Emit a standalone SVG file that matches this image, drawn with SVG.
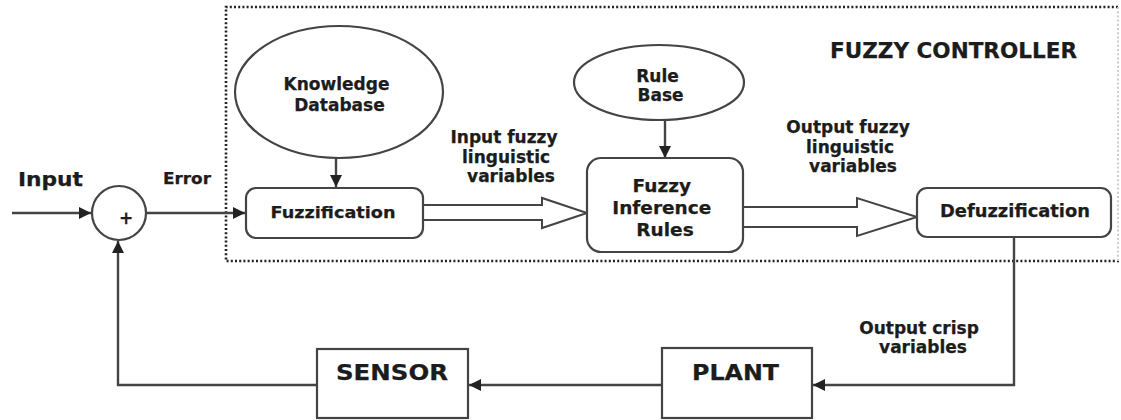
<svg xmlns="http://www.w3.org/2000/svg" width="1121" height="420" viewBox="0 0 1121 420">
  <defs>
    <style>
      .lbl { font-family: "DejaVu Sans", Verdana, sans-serif; font-weight: bold; fill: #1c1c1c; text-anchor: middle; stroke: #1c1c1c; stroke-width: 0.25; }
      .shape { fill: #fff; stroke: #444; stroke-width: 2.2; }
      .wire { fill: none; stroke: #444; stroke-width: 2.4; }
      .hollow { fill: #fff; stroke: #444; stroke-width: 2; stroke-linejoin: miter; }
      .frame { fill: none; stroke: #222; stroke-width: 2.6; stroke-dasharray: 2 2.2; }
    </style>
    <marker id="head" viewBox="0 0 10 10" refX="10" refY="5" markerWidth="12" markerHeight="12" markerUnits="userSpaceOnUse" orient="auto">
      <path d="M0,0 L10,5 L0,10 Z" fill="#222"/>
    </marker>
  </defs>

  <rect width="1121" height="420" fill="#fff"/>

  <!-- controller boundary -->
  <g id="fuzzy-controller">
    <path class="frame" d="M1118,7 L226,7 L226,261 L1121,261"/>
    <path d="M1118,7 L1118,261" fill="none" stroke="#ccc" stroke-width="2" stroke-dasharray="2 2.2"/>
    <text class="lbl" x="953.5" y="58" font-size="20.5" textLength="247" lengthAdjust="spacingAndGlyphs">FUZZY CONTROLLER</text>
  </g>

  <!-- connectors -->
  <g id="connectors">
    <line class="wire" x1="12" y1="213" x2="91" y2="213" marker-end="url(#head)"/>
    <line class="wire" x1="146" y1="213" x2="245" y2="213" marker-end="url(#head)"/>
    <line class="wire" x1="336" y1="158" x2="336" y2="187" marker-end="url(#head)"/>
    <line class="wire" x1="665" y1="120" x2="665" y2="158" marker-end="url(#head)"/>
    <polyline class="hollow" points="424,205 542,205 542,198 587,213 542,228 542,220 424,220"/>
    <polyline class="hollow" points="743,207 857,207 857,198 917,217 857,236 857,227 743,227"/>
    <polyline class="wire" points="1014,237 1014,385 813,385" marker-end="url(#head)"/>
    <line class="wire" x1="662" y1="385" x2="469" y2="385" marker-end="url(#head)"/>
    <polyline class="wire" points="317,385 118,385 118,241" marker-end="url(#head)"/>
    <text class="lbl" x="50.5" y="186" font-size="19" textLength="65" lengthAdjust="spacingAndGlyphs">Input</text>
    <text class="lbl" x="187" y="184" font-size="15.5" textLength="48" lengthAdjust="spacingAndGlyphs">Error</text>
    <text class="lbl" font-size="17">
      <tspan x="507" y="143">Input fuzzy</tspan>
      <tspan x="509" y="163">linguistic</tspan>
      <tspan x="511" y="182">variables</tspan>
    </text>
    <text class="lbl" font-size="17">
      <tspan x="851" y="133">Output fuzzy</tspan>
      <tspan x="853" y="153">linguistic</tspan>
      <tspan x="853" y="172">variables</tspan>
    </text>
    <text class="lbl" font-size="17">
      <tspan x="922" y="334">Output crisp</tspan>
      <tspan x="923" y="353">variables</tspan>
    </text>
  </g>

  <g id="summing-junction">
    <circle class="shape" cx="119" cy="213" r="27"/>
    <text class="lbl" x="126" y="224" font-size="17">+</text>
  </g>

  <g id="knowledge-database">
    <ellipse class="shape" cx="339" cy="92" rx="104" ry="66"/>
    <text class="lbl" font-size="17">
      <tspan x="339.5" y="90">Knowledge</tspan>
      <tspan x="339.5" y="111">Database</tspan>
    </text>
  </g>

  <g id="rule-base">
    <ellipse class="shape" cx="659" cy="82.5" rx="85" ry="37.5"/>
    <text class="lbl" font-size="17">
      <tspan x="660.5" y="82">Rule</tspan>
      <tspan x="660.5" y="101">Base</tspan>
    </text>
  </g>

  <g id="fuzzification">
    <rect class="shape" x="246" y="188" width="177" height="50" rx="10"/>
    <text class="lbl" x="333" y="218" font-size="16.5" textLength="125" lengthAdjust="spacingAndGlyphs">Fuzzification</text>
  </g>

  <g id="fuzzy-inference-rules">
    <rect class="shape" x="587" y="158" width="156" height="94" rx="14"/>
    <text class="lbl" font-size="18.5">
      <tspan x="665" y="192">Fuzzy</tspan>
      <tspan x="665" y="214">Inference</tspan>
      <tspan x="665" y="236">Rules</tspan>
    </text>
  </g>

  <g id="defuzzification">
    <rect class="shape" x="917" y="188" width="194" height="49" rx="10"/>
    <text class="lbl" x="1015" y="217" font-size="17.5" textLength="150" lengthAdjust="spacingAndGlyphs">Defuzzification</text>
  </g>

  <g id="plant">
    <rect class="shape" x="662" y="348" width="150" height="70"/>
    <text class="lbl" x="735.5" y="380" font-size="20.5" textLength="87" lengthAdjust="spacingAndGlyphs">PLANT</text>
  </g>

  <g id="sensor">
    <rect class="shape" x="317" y="349" width="151" height="69"/>
    <text class="lbl" x="392" y="380" font-size="20.5" textLength="112" lengthAdjust="spacingAndGlyphs">SENSOR</text>
  </g>
</svg>
